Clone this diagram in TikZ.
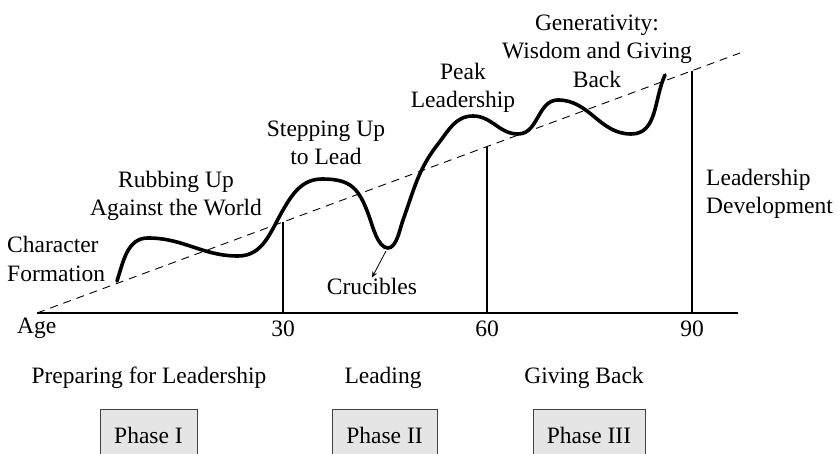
\documentclass[tikz,border=0pt]{standalone}
\usepackage{fontspec}
\setmainfont{Liberation Serif}
\usetikzlibrary{positioning, arrows.meta}
\tikzset{
>={Stealth[length=6pt, width=5pt]}, % small bold arrow heads
lbl/.style={font=\fontsize{23.5}{28.5}\selectfont, inner sep=0pt, align=center}, % every text on the chart
phase/.style={lbl, draw=black!75, line width=0.9pt, fill=black!10, minimum height=52pt}, % the phase boxes at the bottom
growth/.style={line width=3.6pt, line cap=round}, % the thick development curve
trend/.style={line width=0.9pt, dash pattern=on 8pt off 6pt}, % the dashed trend line
}

\begin{document}
\begin{tikzpicture}[x=1pt, y=-1pt]
    \useasboundingbox (0,0) rectangle (840,454);

    % axis and trend line
    \coordinate (o) at (37,313);
    \coordinate (axisend) at (738,313);
    \coordinate (trendend) at (740,53);
    \draw[line width=1.1pt] (o) -- (axisend);
    \draw[trend] (o) -- (trendend);

    % ages, with the verticals up to the trend line
    \coordinate (t30) at (283,222);
    \coordinate (t60) at (487,147);
    \coordinate (t90) at (692,71);
    \node[lbl, anchor=north] (a30) at (283,321) {30};
    \node[lbl, anchor=north] (a60) at (487,321) {60};
    \node[lbl, anchor=north] (a90) at (692,321) {90};
    \node[lbl, anchor=north west] (age) at (17,318) {Age};
    \draw[line width=1.3pt] (t30) -- (t30 |- o)
                            (t60) -- (t60 |- o)
                            (t90) -- (t90 |- o);

    % the development curve
    \draw[growth] (117,281) to[out=72, in=180] (148,238)
        to[out=0, in=180] (238,256)
        to[out=0, in=240] (283,210)
        to[out=60, in=180] (322,179)
        to[out=0, in=110, looseness=1.25] (369,216)
        to[out=-70, in=180, looseness=0.7] (388,248)
        to[out=0, in=250, looseness=0.7] (403,220)
        to[out=70, in=232] (438,144)
        to[out=52, in=180] (473,116)
        to[out=0, in=180] (518,134)
        to[out=0, in=180] (558,100)
        to[out=0, in=180] (631,134)
        to[out=0, in=245] (665,75);
    \coordinate (dip) at (386,251);

    % stage labels
    \node[lbl, align=left, anchor=west] (character) at (7,259) {Character\\Formation};
    \node[lbl] (rubbing) at (176,196) {Rubbing Up\\Against the World};
    \node[lbl] (stepping) at (326,143) {Stepping Up\\to Lead};
    \node[lbl] (crucibles) at (372,286) {Crucibles};
    \node[lbl] (peak) at (463,88) {Peak\\Leadership};
    \node[lbl] (generativity) at (597,51) {Generativity:\\Wisdom and Giving\\Back};
    \node[lbl, align=left, anchor=west] (development) at (706,194) {Leadership\\Development};
    \draw[->, line width=0.8pt] (dip) -- (crucibles.north);

    % the three phases
    \node[lbl] (prep) at (149,378) {Preparing for Leadership};
    \node[lbl] (leading) at (383,378) {Leading};
    \node[lbl] (giving) at (584,378) {Giving Back};
    \node[phase, minimum width=97pt] (p1) at (148.5,435) {Phase I};
    \node[phase, minimum width=105pt] (p2) at (384.5,435) {Phase II};
    \node[phase, minimum width=112pt] (p3) at (589,435) {Phase III};
\end{tikzpicture}
\end{document}
